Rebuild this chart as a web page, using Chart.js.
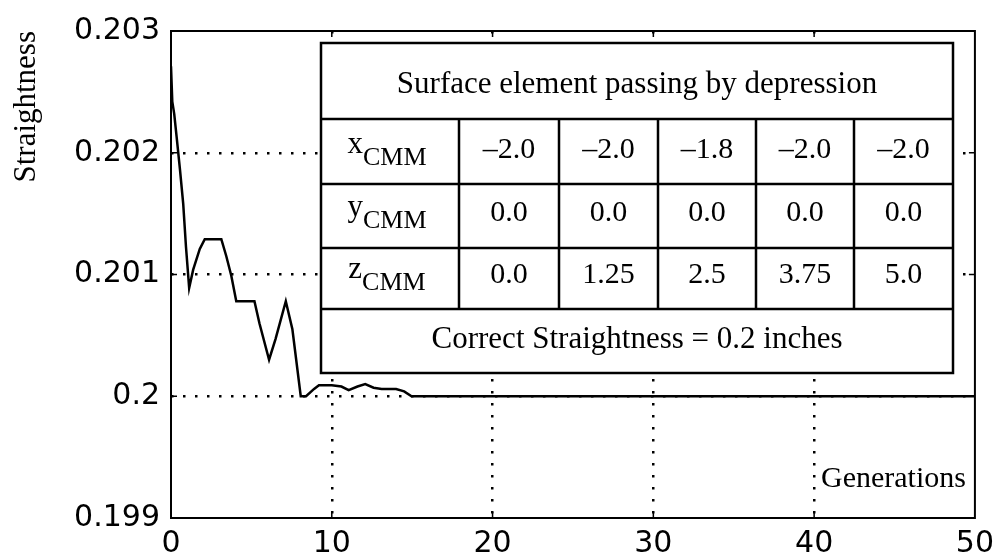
<!DOCTYPE html>
<html>
<head>
<meta charset="utf-8">
<script src="https://cdn.jsdelivr.net/npm/chart.js@4/dist/chart.umd.min.js"></script>
<style>
  html, body { margin: 0; padding: 0; background: #ffffff; }
  #wrap { width: 1002px; height: 559px; }
</style>
</head>
<body>
<div id="wrap"><canvas id="chart" width="1002" height="559"></canvas></div>
<script>
// Best straightness found per generation
const generations = [0, 0.08, 0.2, 0.35, 0.56, 0.76, 0.93, 1.13, 1.38, 1.79, 2.1, 3.13, 3.44, 3.75, 4.06,
  5.19, 5.5, 6.1, 6.5, 7.14, 7.55, 8.07, 8.4, 8.9, 9.2, 10.0, 10.6, 11.05, 11.6, 12.08, 12.6, 13.1,
  14.0, 14.5, 14.96, 50];
const straightness = [0.20271, 0.20242, 0.20232, 0.20213, 0.20186, 0.20158, 0.20123, 0.20089, 0.20104,
  0.20121, 0.20129, 0.20129, 0.20115, 0.20099, 0.20078, 0.20078, 0.20060, 0.20030, 0.20047, 0.20078,
  0.20055, 0.20000, 0.20000, 0.20006, 0.20009, 0.20009, 0.20008, 0.20005, 0.20008, 0.20010, 0.20007,
  0.20006, 0.20006, 0.20004, 0.20000, 0.20000];

// Axis ticks
const xTickValues = [0, 10, 20, 30, 40, 50];
const yTickValues = [0.199, 0.2, 0.201, 0.202, 0.203];
const yTickLabels = ['0.199', '0.2', '0.201', '0.202', '0.203'];

// Inset table contents
const tableTitle = 'Surface element passing by depression';
const tableRowNames = ['x', 'y', 'z'];
const tableRowSub = 'CMM';
const xCmm = [-2.0, -2.0, -1.8, -2.0, -2.0];
const yCmm = [0.0, 0.0, 0.0, 0.0, 0.0];
const zCmm = [0.0, 1.25, 2.5, 3.75, 5.0];
const tableNote = 'Correct Straightness = 0.2 inches';
const xAxisLabel = 'Generations';
const yAxisLabel = 'Straightness';

// Layout of the inset table (canvas pixels)
const tableCols = [321, 459, 559, 658, 756, 854, 953];
const tableRows = [43, 119, 184, 248, 309, 373];
const tableBaselines = [93, 158, 221, 283, 348];

const SERIF = '"Liberation Serif", "Times New Roman", serif';
const SANS = '"DejaVu Sans", sans-serif';

function fmt(v) {
  const s = Number.isInteger(v) ? v.toFixed(1) : String(v);
  return s.replace('-', '\u2013');
}

const framePlugin = {
  id: 'frameAndTable',
  afterDraw(chart) {
    const ctx = chart.ctx;
    const a = chart.chartArea;
    const xs = chart.scales.x, ys = chart.scales.y;
    ctx.save();
    // axes box
    ctx.strokeStyle = '#000';
    ctx.lineWidth = 2;
    ctx.strokeRect(a.left, a.top, a.right - a.left, a.bottom - a.top);
    // inward tick marks
    ctx.lineWidth = 1.5;
    ctx.beginPath();
    xTickValues.slice(1, -1).forEach(v => {
      const px = xs.getPixelForValue(v);
      ctx.moveTo(px, a.bottom); ctx.lineTo(px, a.bottom - 6);
      ctx.moveTo(px, a.top); ctx.lineTo(px, a.top + 6);
    });
    yTickValues.slice(1, -1).forEach(v => {
      const py = ys.getPixelForValue(v);
      ctx.moveTo(a.left, py); ctx.lineTo(a.left + 6, py);
      ctx.moveTo(a.right, py); ctx.lineTo(a.right - 6, py);
    });
    ctx.stroke();

    // inset table
    const L = tableCols[0], R = tableCols[tableCols.length - 1];
    const T = tableRows[0], B = tableRows[tableRows.length - 1];
    ctx.fillStyle = '#fff';
    ctx.fillRect(L, T, R - L, B - T);
    ctx.strokeStyle = '#000';
    ctx.lineWidth = 2.5;
    ctx.strokeRect(L, T, R - L, B - T);
    ctx.beginPath();
    for (let i = 1; i < tableRows.length - 1; i++) {
      ctx.moveTo(L, tableRows[i]); ctx.lineTo(R, tableRows[i]);
    }
    for (let j = 1; j < tableCols.length - 1; j++) {
      ctx.moveTo(tableCols[j], tableRows[1]); ctx.lineTo(tableCols[j], tableRows[4]);
    }
    ctx.stroke();

    ctx.fillStyle = '#000';
    ctx.textBaseline = 'alphabetic';
    ctx.textAlign = 'center';
    ctx.font = '31px ' + SERIF;
    ctx.fillText(tableTitle, (L + R) / 2, tableBaselines[0]);
    ctx.fillText(tableNote, (L + R) / 2, tableBaselines[4]);

    const rowsData = [xCmm, yCmm, zCmm];
    rowsData.forEach((vals, r) => {
      const base = tableBaselines[r + 1];
      // row label with subscript
      ctx.textAlign = 'left';
      ctx.font = '31px ' + SERIF;
      const wMain = ctx.measureText(tableRowNames[r]).width;
      ctx.font = '26px ' + SERIF;
      const wSub = ctx.measureText(tableRowSub).width;
      const cx = (tableCols[0] + tableCols[1]) / 2 - 3;
      const x0 = cx - (wMain + wSub) / 2;
      ctx.font = '31px ' + SERIF;
      ctx.fillText(tableRowNames[r], x0, base - 5);
      ctx.font = '26px ' + SERIF;
      ctx.fillText(tableRowSub, x0 + wMain, base + 7);
      // values
      ctx.textAlign = 'center';
      ctx.font = '30px ' + SERIF;
      vals.forEach((v, c) => {
        ctx.fillText(fmt(v), (tableCols[c + 1] + tableCols[c + 2]) / 2, base);
      });
    });

    // x axis label inside the plot
    ctx.textAlign = 'left';
    ctx.font = '30px ' + SERIF;
    ctx.fillText(xAxisLabel, 821, 487);
    ctx.restore();
  }
};

const interiorGrid = (ctx) => {
  const n = ctx.scale.ticks.length;
  return (ctx.index === 0 || ctx.index === n - 1) ? 'rgba(0,0,0,0)' : '#000';
};

new Chart(document.getElementById('chart'), {
  type: 'line',
  data: {
    datasets: [{
      data: generations.map((g, i) => ({ x: g, y: straightness[i] })),
      borderColor: '#000',
      borderWidth: 2.5,
      pointRadius: 0,
      tension: 0,
      fill: false
    }]
  },
  options: {
    responsive: false,
    animation: false,
    events: [],
    layout: { padding: { top: 31, right: 23, left: 0, bottom: 0 } },
    plugins: { legend: { display: false }, tooltip: { enabled: false } },
    scales: {
      x: {
        type: 'linear',
        min: 0, max: 50,
        afterBuildTicks: s => { s.ticks = xTickValues.map(v => ({ value: v })); },
        afterFit: s => { s.height = 41; },
        ticks: { color: '#000', font: { family: SANS, size: 30 }, padding: 8, maxRotation: 0, autoSkip: false,
                 callback: v => String(v) },
        grid: { color: interiorGrid, lineWidth: 2.5, drawTicks: false },
        border: { display: false, dash: [2.5, 9.5] }
      },
      y: {
        type: 'linear',
        min: 0.199, max: 0.203,
        afterBuildTicks: s => { s.ticks = yTickValues.map(v => ({ value: v })); },
        afterFit: s => { s.width = 171; },
        ticks: { color: '#000', font: { family: SANS, size: 30 }, padding: 11, autoSkip: false,
                 callback: (v, i) => yTickLabels[i] },
        grid: { color: interiorGrid, lineWidth: 2.5, drawTicks: false },
        border: { display: false, dash: [2.5, 9.5] },
        title: { display: true, text: yAxisLabel, align: 'end', color: '#000',
                 font: { family: SERIF, size: 31 }, padding: { top: 8, bottom: 0 } }
      }
    }
  },
  plugins: [framePlugin]
});
</script>
</body>
</html>
